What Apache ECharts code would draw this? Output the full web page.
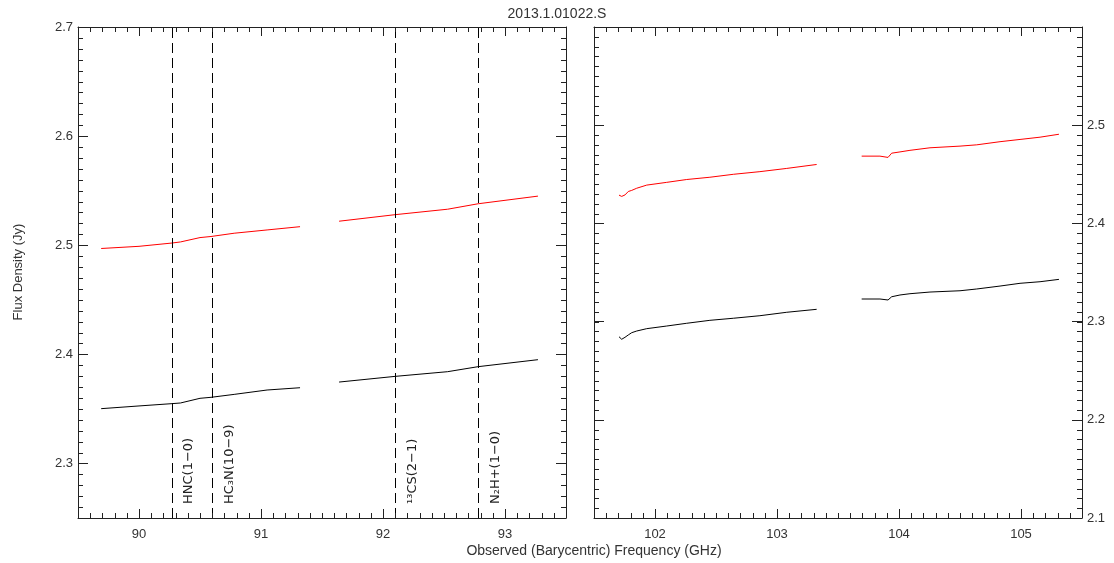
<!DOCTYPE html>
<html>
<head>
<meta charset="utf-8">
<script src="https://cdn.jsdelivr.net/npm/echarts@6/dist/echarts.min.js"></script>
<style>
  html, body { margin: 0; padding: 0; background: #fff; }
  #chart { width: 1114px; height: 563px; }
</style>
</head>
<body>
<div id="chart"></div>
<script>
  // left panel (89.5 - 93.5 GHz), two spectral windows
  var leftFreq1 = [89.69, 90.0, 90.27, 90.34, 90.5, 90.59, 90.78, 91.05, 91.32]
  var leftBlack1 = [2.3502, 2.3527, 2.3548, 2.3554, 2.3597, 2.3606, 2.3633, 2.3673, 2.3694]
  var leftRed1 = [2.497, 2.499, 2.502, 2.503, 2.507, 2.508, 2.511, 2.514, 2.517]
  var leftFreq2 = [91.64, 92.1, 92.53, 92.78, 93.27]
  var leftBlack2 = [2.3746, 2.3798, 2.3841, 2.3887, 2.3951]
  var leftRed2 = [2.522, 2.528, 2.533, 2.538, 2.545]

  // right panel (101.5 - 105.5 GHz)
  var rightFreq1 = [101.705, 101.727, 101.754, 101.781, 101.809, 101.85, 101.932, 102.096, 102.26, 102.45, 102.642, 102.86, 103.08, 103.325]
  var rightBlack1 = [2.2846, 2.2820, 2.2840, 2.2864, 2.2887, 2.2904, 2.2928, 2.2955, 2.2983, 2.3013, 2.3034, 2.3060, 2.3095, 2.3125]
  var rightRed1 = [2.4288, 2.4275, 2.4290, 2.4325, 2.4336, 2.4358, 2.4390, 2.4418, 2.4447, 2.4470, 2.4500, 2.4527, 2.4560, 2.4600]
  var rightFreq2 = [103.694, 103.844, 103.86, 103.91, 103.94, 104.008, 104.09, 104.254, 104.5, 104.637, 104.828, 104.992, 105.156, 105.311]
  var rightBlack2 = [2.3230, 2.3230, 2.3220, 2.3220, 2.3253, 2.3271, 2.3284, 2.3301, 2.3314, 2.3332, 2.3362, 2.3390, 2.3406, 2.3430]
  var rightRed2 = [2.4685, 2.4685, 2.4672, 2.4672, 2.4715, 2.4728, 2.4744, 2.4770, 2.4787, 2.4800, 2.4832, 2.4855, 2.4878, 2.4908]

  // line identifications (dashed markers)
  var lineFreqs = [90.27, 90.6, 92.1, 92.78]
  var lineNames = ['HNC(1\u22120)', 'HC\u2083N(10\u22129)', '\u00b9\u00b3CS(2\u22121)', 'N\u2082H+(1\u22120)']

  // axis ranges and labelled ticks
  var leftX = [89.5, 93.5], leftXTicks = [90, 91, 92, 93]
  var rightX = [101.5, 105.5], rightXTicks = [102, 103, 104, 105]
  var leftY = [2.25, 2.7], leftYTicks = [2.3, 2.4, 2.5, 2.6, 2.7]
  var rightY = [2.1, 2.6], rightYTicks = [2.1, 2.2, 2.3, 2.4, 2.5]

  var FONT = 'Liberation Sans'
  var AX = '#222'

  // small tick positions across a range
  function steps(range, step) {
    var out = []
    var n = Math.round((range[1] - range[0]) / step)
    for (var i = 0; i <= n; i++) out.push(+(range[0] + i * step).toFixed(4))
    return out
  }

  function majorAxis(grid, pos, range, ticks, showLabel, len, fmt, margin) {
    return {
      type: 'value', gridIndex: grid, position: pos, min: range[0], max: range[1],
      axisLine: { show: true, onZero: false, lineStyle: { color: AX, width: 1 } },
      axisTick: { show: true, inside: true, length: len, customValues: ticks, lineStyle: { color: AX } },
      axisLabel: { show: showLabel, customValues: ticks, color: '#333', fontSize: 13, fontFamily: FONT, margin: margin, formatter: fmt },
      splitLine: { show: false }
    }
  }
  var fx = function (v) { return String(Math.round(v)) }
  var fy = function (v) { return v.toFixed(1) }

  // 0/1: left panel bottom/top (left/right), 2/3: right panel
  var xAxes = [
    majorAxis(0, 'bottom', leftX, leftXTicks, true, 9, fx, 10),
    majorAxis(0, 'top', leftX, leftXTicks, false, 9, fx, 10),
    majorAxis(1, 'bottom', rightX, rightXTicks, true, 9, fx, 10),
    majorAxis(1, 'top', rightX, rightXTicks, false, 9, fx, 10)
  ]
  var yAxes = [
    majorAxis(0, 'left', leftY, leftYTicks, true, 10, fy, 5),
    majorAxis(0, 'right', leftY, leftYTicks, false, 10, fy, 5),
    majorAxis(1, 'left', rightY, rightYTicks, false, 10, fy, 5),
    majorAxis(1, 'right', rightY, rightYTicks, true, 10, fy, 5)
  ]

  function zip(xs, ys) {
    return xs.map(function (x, i) { return [x, ys[i]] })
  }
  function spec(name, xs, ys, color, axisIdx) {
    return {
      name: name, type: 'line', xAxisIndex: axisIdx, yAxisIndex: axisIdx,
      data: zip(xs, ys), showSymbol: false, symbol: 'none', silent: true,
      lineStyle: { color: color, width: 1 }
    }
  }

  var series = [
    spec('black', leftFreq1, leftBlack1, '#000', 0),
    spec('black', leftFreq2, leftBlack2, '#000', 0),
    spec('red', leftFreq1, leftRed1, '#ff0000', 0),
    spec('red', leftFreq2, leftRed2, '#ff0000', 0),
    spec('black', rightFreq1, rightBlack1, '#000', 2),
    spec('black', rightFreq2, rightBlack2, '#000', 2),
    spec('red', rightFreq1, rightRed1, '#ff0000', 2),
    spec('red', rightFreq2, rightRed2, '#ff0000', 2)
  ]
  // dashed line markers on the left panel
  series[0].markLine = {
    symbol: 'none', silent: true, animation: false,
    label: { show: false },
    lineStyle: { type: [10, 5], color: '#000', width: 1 },
    data: lineFreqs.map(function (f) { return { xAxis: f } })
  }

  var chart = echarts.init(document.getElementById('chart'))
  var option = {
    animation: false,
    backgroundColor: '#fff',
    title: {
      text: '2013.1.01022.S', left: 'center', top: 2,
      textStyle: { fontSize: 14, fontWeight: 'normal', color: '#333', fontFamily: FONT }
    },
    grid: [
      { left: 78, top: 27, width: 488, height: 491 },
      { left: 594, top: 27, width: 488, height: 491 }
    ],
    xAxis: xAxes,
    yAxis: yAxes,
    series: series
  }
  chart.setOption(option)

  // axis names and rotated line labels
  var graphics = [
    {
      type: 'text', x: 594, y: 551,
      style: { text: 'Observed (Barycentric) Frequency (GHz)', fill: '#333', fontSize: 14, fontFamily: FONT, align: 'center', verticalAlign: 'middle' }
    },
    {
      type: 'text', x: 18, y: 272, rotation: Math.PI / 2,
      style: { text: 'Flux Density (Jy)', fill: '#333', fontSize: 13, fontFamily: FONT, align: 'center', verticalAlign: 'middle' }
    }
  ]
  var baseY = chart.convertToPixel({ yAxisIndex: 0 }, leftY[0]) - 14
  lineFreqs.forEach(function (f, i) {
    var px = chart.convertToPixel({ xAxisIndex: 0 }, f)
    graphics.push({
      type: 'text', x: px + 17, y: baseY, rotation: Math.PI / 2,
      style: { text: lineNames[i], fill: '#222', fontSize: 13, fontFamily: 'DejaVu Sans', align: 'left', verticalAlign: 'middle' }
    })
  })

  // small ticks on every side, positioned through the axes
  function tick(x1, y1, x2, y2) {
    return { type: 'line', silent: true, z: 10, shape: { x1: x1, y1: y1, x2: x2, y2: y2 }, style: { stroke: AX, lineWidth: 1 } }
  }
  function addSmallTicks(xIdx, yIdx, xr, yr) {
    var left = chart.convertToPixel({ xAxisIndex: xIdx }, xr[0])
    var right = chart.convertToPixel({ xAxisIndex: xIdx }, xr[1])
    var bottom = chart.convertToPixel({ yAxisIndex: yIdx }, yr[0])
    var top = chart.convertToPixel({ yAxisIndex: yIdx }, yr[1])
    steps(xr, 0.1).forEach(function (v) {
      var px = Math.round(chart.convertToPixel({ xAxisIndex: xIdx }, v)) + 0.5
      graphics.push(tick(px, bottom, px, bottom - 5))
      graphics.push(tick(px, top, px, top + 5))
    })
    steps(yr, 0.01).forEach(function (v) {
      var py = Math.round(chart.convertToPixel({ yAxisIndex: yIdx }, v)) + 0.5
      graphics.push(tick(left, py, left + 5, py))
      graphics.push(tick(right, py, right - 5, py))
    })
  }
  addSmallTicks(0, 0, leftX, leftY)
  addSmallTicks(2, 2, rightX, rightY)

  chart.setOption({ graphic: graphics })
</script>
</body>
</html>
